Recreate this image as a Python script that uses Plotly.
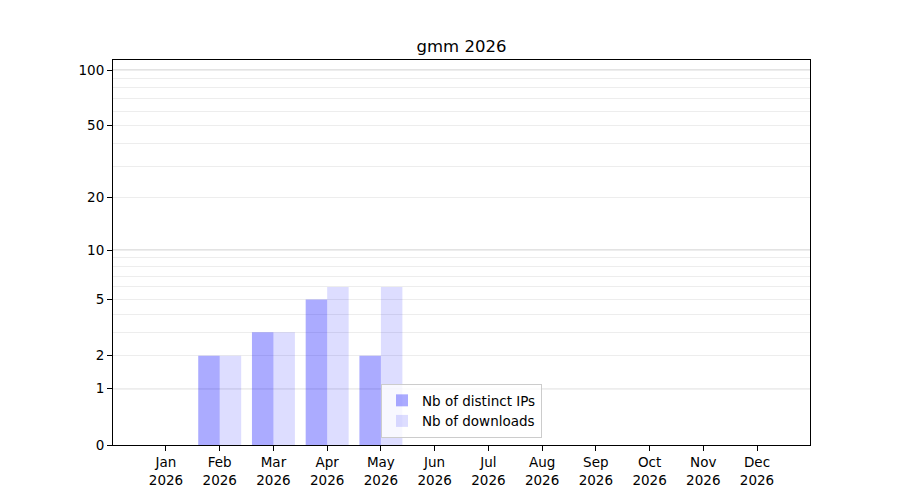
import numpy as np
import plotly.graph_objects as go

months = ['Jan', 'Feb', 'Mar', 'Apr', 'May', 'Jun', 'Jul', 'Aug', 'Sep', 'Oct', 'Nov', 'Dec']
year = '2026'
distinct_ips = [0, 2, 3, 5, 2, 0, 0, 0, 0, 0, 0, 0]
downloads = [0, 2, 3, 6, 6, 0, 0, 0, 0, 0, 0, 0]

major_ticks = [0, 1, 2, 5, 10, 20, 50, 100]
minor_ticks = [3, 4, 6, 7, 8, 9, 30, 40, 60, 70, 80, 90]
dark_grid = [1, 10, 100]


# the y axis is a log(x+1) scale
def scale(v):
    return np.log10(np.asarray(v, dtype=float) + 1)


xs = list(range(len(months)))
labels = [f'{m}<br>{year}' for m in months]

fig = go.Figure()
fig.add_trace(go.Bar(x=xs, y=scale(distinct_ips), name='Nb of distinct IPs',
                     marker=dict(color='rgba(0,0,255,0.33)', line=dict(width=0)),
                     customdata=distinct_ips, hovertemplate='%{customdata}'))
fig.add_trace(go.Bar(x=xs, y=scale(downloads), name='Nb of downloads',
                     marker=dict(color='rgba(0,0,255,0.135)', line=dict(width=0)),
                     customdata=downloads, hovertemplate='%{customdata}'))

for v in dark_grid:
    fig.add_shape(type='line', xref='paper', x0=0, x1=1, yref='y',
                  y0=float(scale(v)), y1=float(scale(v)),
                  line=dict(color='rgba(0,0,0,0.22)', width=1.2), layer='below')

# page body has an 8px margin, so the margins are shifted by that much
fig.update_layout(
    width=900, height=500,
    paper_bgcolor='white', plot_bgcolor='white',
    font=dict(family='DejaVu Sans', size=13.5, color='black'),
    margin=dict(l=105, r=98, t=52, b=63),
    barmode='group', bargap=0.2, bargroupgap=0,
    title=dict(text='gmm 2026', x=0.5, xref='paper', xanchor='center',
               y=1 - 38 / 500, yref='container', yanchor='middle',
               font=dict(size=16.5)),
    legend=dict(x=0.5, xanchor='center', y=0.018, yanchor='bottom',
                bgcolor='rgba(255,255,255,0.8)', bordercolor='#cccccc', borderwidth=1,
                font=dict(size=13.5), tracegroupgap=2),
    showlegend=True,
)
fig.update_xaxes(range=[-0.986, 11.986], tickvals=xs, ticktext=labels,
                 showgrid=False, zeroline=False,
                 showline=True, linecolor='black', linewidth=1, mirror=True,
                 ticks='outside', ticklen=5, tickcolor='black')
fig.update_yaxes(range=[0, 2.058], tickvals=scale(major_ticks).tolist(),
                 ticktext=[str(t) for t in major_ticks],
                 showgrid=True, gridcolor='#ededed', gridwidth=1, zeroline=False,
                 showline=True, linecolor='black', linewidth=1, mirror=True,
                 ticks='outside', ticklen=5, tickcolor='black',
                 minor=dict(tickvals=scale(minor_ticks).tolist(), showgrid=True,
                            gridcolor='#ededed', gridwidth=1, ticks=''))

fig.write_html('out.html')
